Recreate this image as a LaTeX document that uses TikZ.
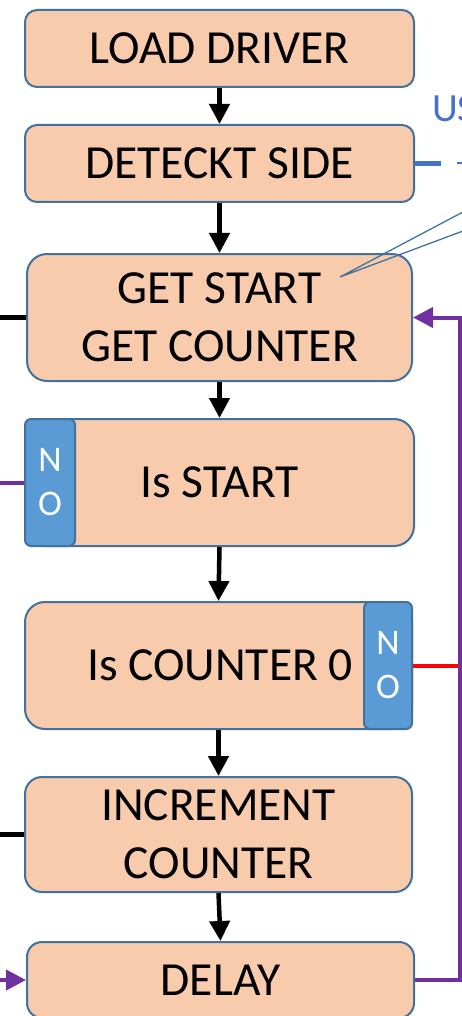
\documentclass[tikz,border=0pt]{standalone}
\usepackage{fontspec}
\setmainfont{Carlito}
\usetikzlibrary{arrows.meta}
\definecolor{peach}{HTML}{F8CBAD}
\definecolor{edge}{HTML}{41719C}
\definecolor{tabblue}{HTML}{5B9BD5}
\definecolor{loopviolet}{HTML}{7030A0}
\definecolor{usbblue}{HTML}{4472C4}
\definecolor{alarmred}{HTML}{FF0000}

\begin{document}
\begin{tikzpicture}[x=1pt,y=-1pt,
  box/.style={draw=edge, line width=2pt, fill=peach, inner sep=0pt,
    align=center, font=\fontsize{47.5}{58}\selectfont},
  notab/.style={draw=edge, line width=2pt, fill=tabblue, rounded corners=6pt,
    inner sep=0pt, align=center, text=white, font=\fontsize{36}{44}\selectfont},
  flow/.style={line width=4.5pt, -{Triangle[width=20pt,length=20pt]}},
  stub/.style={line width=4.5pt},
  loopline/.style={line width=4pt, draw=loopviolet},
  looparrow/.style={loopline, -{Triangle[width=20pt,length=20pt]}},
  callout/.style={draw=edge, line width=1.3pt}
]
\useasboundingbox (0,0) rectangle (462,1016);
\clip (0,0) rectangle (462,1016);

% process boxes
\node[box, minimum width=389pt, minimum height=77pt, rounded corners=12pt]
  (load) at (219.5,48.5) {LOAD DRIVER};
\node[box, minimum width=389pt, minimum height=77pt, rounded corners=12pt]
  (detect) at (219.5,163.5) {DETECKT SIDE};
\node[box, minimum width=385pt, minimum height=127pt, rounded corners=20pt]
  (get) at (219.5,317.5) {GET START\\GET COUNTER};
\node[box, minimum width=389pt, minimum height=127pt, rounded corners=20pt]
  (isstart) at (219.5,482.5) {Is START};
\node[notab, minimum width=50pt, minimum height=127pt]
  (tabstart) at (50,482.5) {N\\O};
\node[box, minimum width=387pt, minimum height=127pt, rounded corners=20pt]
  (iscount) at (218.5,665.5) {\hspace*{3pt}Is COUNTER 0};
\node[notab, minimum width=48pt, minimum height=127pt]
  (tabcount) at (388,665.5) {N\\O};
\node[box, minimum width=387pt, minimum height=115pt, rounded corners=17pt]
  (incr) at (218.5,834.5) {INCREMENT\\COUNTER};
\node[box, minimum width=387pt, minimum height=76pt, rounded corners=15pt]
  (delay) at (220.5,980) {DELAY};

% main flow
\draw[flow] (load.south) -- (detect.north);
\draw[flow] (detect.south) -- (get.north);
\draw[flow] (get.south) -- (isstart.north);
\draw[flow] (isstart.south) -- (iscount.north);
\draw[flow] (iscount.south) -- (incr.north);
\draw[flow] (incr.south) -- (delay.north);

% incoming lines from the left
\coordinate (inget) at (0,317.5);
\coordinate (instart) at (0,482.5);
\coordinate (inincr) at (0,834.5);
\coordinate (indelay) at (0,980);
\draw[stub] (inget) -- (get.west);
\draw[loopline] (instart) -- (tabstart.west);
\draw[stub] (inincr) -- (incr.west);
\draw[looparrow] (indelay) -- (delay.west);

% loop back and the NO branch of the counter test
\coordinate (rail) at (460,317.5);
\draw[line width=4pt, draw=alarmred] (tabcount.east) -- (tabcount.east -| rail);
\draw[looparrow] (delay.east) -- (rail |- delay.east) -- (rail) -- (get.east);

% USB side link and callout
\node[anchor=base west, inner sep=0pt, text=usbblue,
  font=\fontsize{40}{48}\selectfont] (usb) at (432,122) {US};
\coordinate (usbend) at (441,163.5);
\coordinate (usbdashA) at (457,163.5);
\coordinate (usbdashB) at (463,163.5);
\draw[line width=5pt, draw=usbblue] (detect.east) -- (usbend);
\draw[line width=2pt, draw=usbblue] (usbdashA) -- (usbdashB);
\coordinate (tip) at (340,277);
\coordinate (calloutA) at (463,212);
\coordinate (calloutB) at (463,231);
\draw[callout] (calloutA) -- (tip) -- (calloutB);
\end{tikzpicture}
\end{document}
